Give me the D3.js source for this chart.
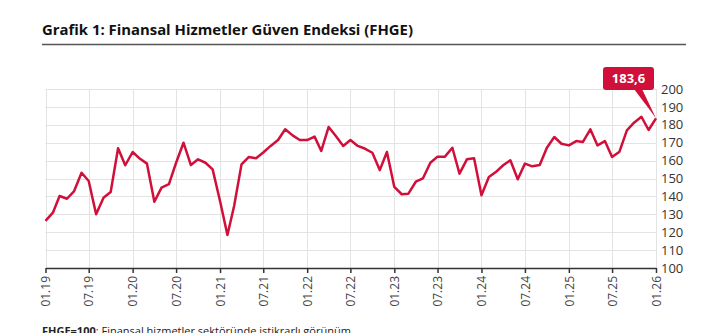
<!DOCTYPE html>
<html><head><meta charset="utf-8">
<script src="https://cdn.jsdelivr.net/npm/d3@7"></script>
<style>
html,body{margin:0;padding:0;background:#fff;}
svg{display:block;font-family:"Open Sans",sans-serif;}
</style></head>
<body><svg id="c" width="716" height="333"></svg>
<script>
const title = "Grafik 1: Finansal Hizmetler Güven Endeksi (FHGE)";
const startMonth = "2019-01";
const endMonth = "2026-01";
const values = [
 126.3,130.9,140.2,138.7,143.0,153.2,148.6,130.0,139.3,142.5,166.9,157.4,
 164.8,161.0,158.3,137.0,144.9,146.8,158.8,170.0,157.5,160.7,158.8,155.1,
 137.4,118.4,134.6,157.9,162.0,161.3,164.5,168.2,171.5,177.5,174.1,171.5,
 171.5,173.4,165.4,178.8,173.7,168.2,171.5,168.2,166.6,164.4,154.7,164.8,
 145.3,141.2,141.5,148.2,150.1,158.8,162.2,162.2,167.2,152.7,160.7,161.3,
 140.6,150.8,153.6,157.4,160.2,149.6,158.3,156.8,157.5,167.2,173.2,169.4,
 168.5,170.9,170.4,177.5,168.5,170.9,162.0,165.0,176.9,181.2,184.5,177.1,
 183.6
];
const xTickLabels = ["01.19","07.19","01.20","07.20","01.21","07.21","01.22","07.22","01.23","07.23","01.24","07.24","01.25","07.25","01.26"];
const yTicks = [100,110,120,130,140,150,160,170,180,190,200];
const lastLabel = "183,6";
const noteBold = "FHGE=100";
const noteText = ": Finansal hizmetler sektöründe istikrarlı görünüm";

const parse = d3.timeParse("%Y-%m");
const dates = d3.timeMonth.range(parse(startMonth), d3.timeMonth.offset(parse(endMonth),1));
const data = dates.map((d,i)=>({date:d, v:values[i]}));
const tickDates = xTickLabels.map(s=>{const [m,y]=s.split(".");return new Date(2000+ +y, +m-1, 1);});

const svg = d3.select("#c");
const x = d3.scaleTime().domain([dates[0], dates[dates.length-1]]).range([45.5, 656]);
const y = d3.scaleLinear().domain([100,200]).range([268, 89]);

// title
svg.append("text").attr("x",42).attr("y",35).attr("font-size",15).attr("font-weight",700)
  .attr("fill","#111").attr("textLength",371).attr("lengthAdjust","spacingAndGlyphs").text(title);
svg.append("line").attr("x1",42).attr("x2",686).attr("y1",44.5).attr("y2",44.5)
  .attr("stroke","#555").attr("stroke-width",1.5);

// grid
svg.append("g").selectAll("line").data(yTicks).join("line")
  .attr("x1",x.range()[0]).attr("x2",x.range()[1])
  .attr("y1",d=>Math.round(y(d))+0.5).attr("y2",d=>Math.round(y(d))+0.5)
  .attr("stroke","#e3e3e3").attr("stroke-width",1);
svg.append("g").selectAll("line").data(tickDates).join("line")
  .attr("x1",d=>Math.round(x(d))+0.5).attr("x2",d=>Math.round(x(d))+0.5)
  .attr("y1",y(200)).attr("y2",y(100))
  .attr("stroke","#e3e3e3").attr("stroke-width",1);

// x axis
const xAxis = d3.axisBottom(x).tickValues(tickDates).tickFormat((d,i)=>xTickLabels[i]).tickSize(5).tickSizeOuter(0);
const gx = svg.append("g").attr("transform",`translate(0,${y(100)})`).call(xAxis);
gx.select(".domain").attr("stroke","#333").attr("stroke-width",1.5);
gx.selectAll(".tick line").attr("stroke","#333").attr("stroke-width",1.5);
gx.selectAll(".tick text").attr("font-size",12).attr("fill","#444").attr("font-family","Open Sans, sans-serif")
  .attr("transform","rotate(-90)").attr("text-anchor","end").attr("x",-8).attr("y",0).attr("dy","0.35em");

// y axis (right)
const yAxis = d3.axisRight(y).tickValues(yTicks).tickSize(0).tickPadding(5);
const gy = svg.append("g").attr("transform",`translate(${x.range()[1]},0)`).call(yAxis);
gy.select(".domain").remove();
gy.selectAll(".tick text").attr("font-size",13).attr("fill","#333").attr("font-family","Open Sans, sans-serif");

// line
const red = "#d0103a";
svg.append("path").datum(data)
  .attr("d", d3.line().x(d=>x(d.date)).y(d=>y(d.v)))
  .attr("fill","none").attr("stroke",red).attr("stroke-width",2.5).attr("stroke-linejoin","round");

// last value label
const last = data[data.length-1];
const lx = x(last.date), ly = y(last.v);
const bx0 = 603, bx1 = 654, by0 = 67, by1 = 90;
svg.append("path").attr("d",`M${bx1-20},${by1-1} L${lx},${ly} L${bx1-12},${by1-1} Z`).attr("fill",red);
svg.append("rect").attr("x",bx0).attr("y",by0).attr("width",bx1-bx0).attr("height",by1-by0).attr("rx",3).attr("fill",red);
svg.append("text").attr("x",(bx0+bx1)/2).attr("y",(by0+by1)/2).attr("dy","0.36em").attr("text-anchor","middle")
  .attr("font-size",13).attr("font-weight",700).attr("fill","#fff").text(lastLabel);

// footnote
const ft = svg.append("text").attr("x",42).attr("y",335).attr("font-size",11).attr("fill","#222");
ft.append("tspan").attr("font-weight",700).text(noteBold);
ft.append("tspan").text(noteText);
</script></body></html>
